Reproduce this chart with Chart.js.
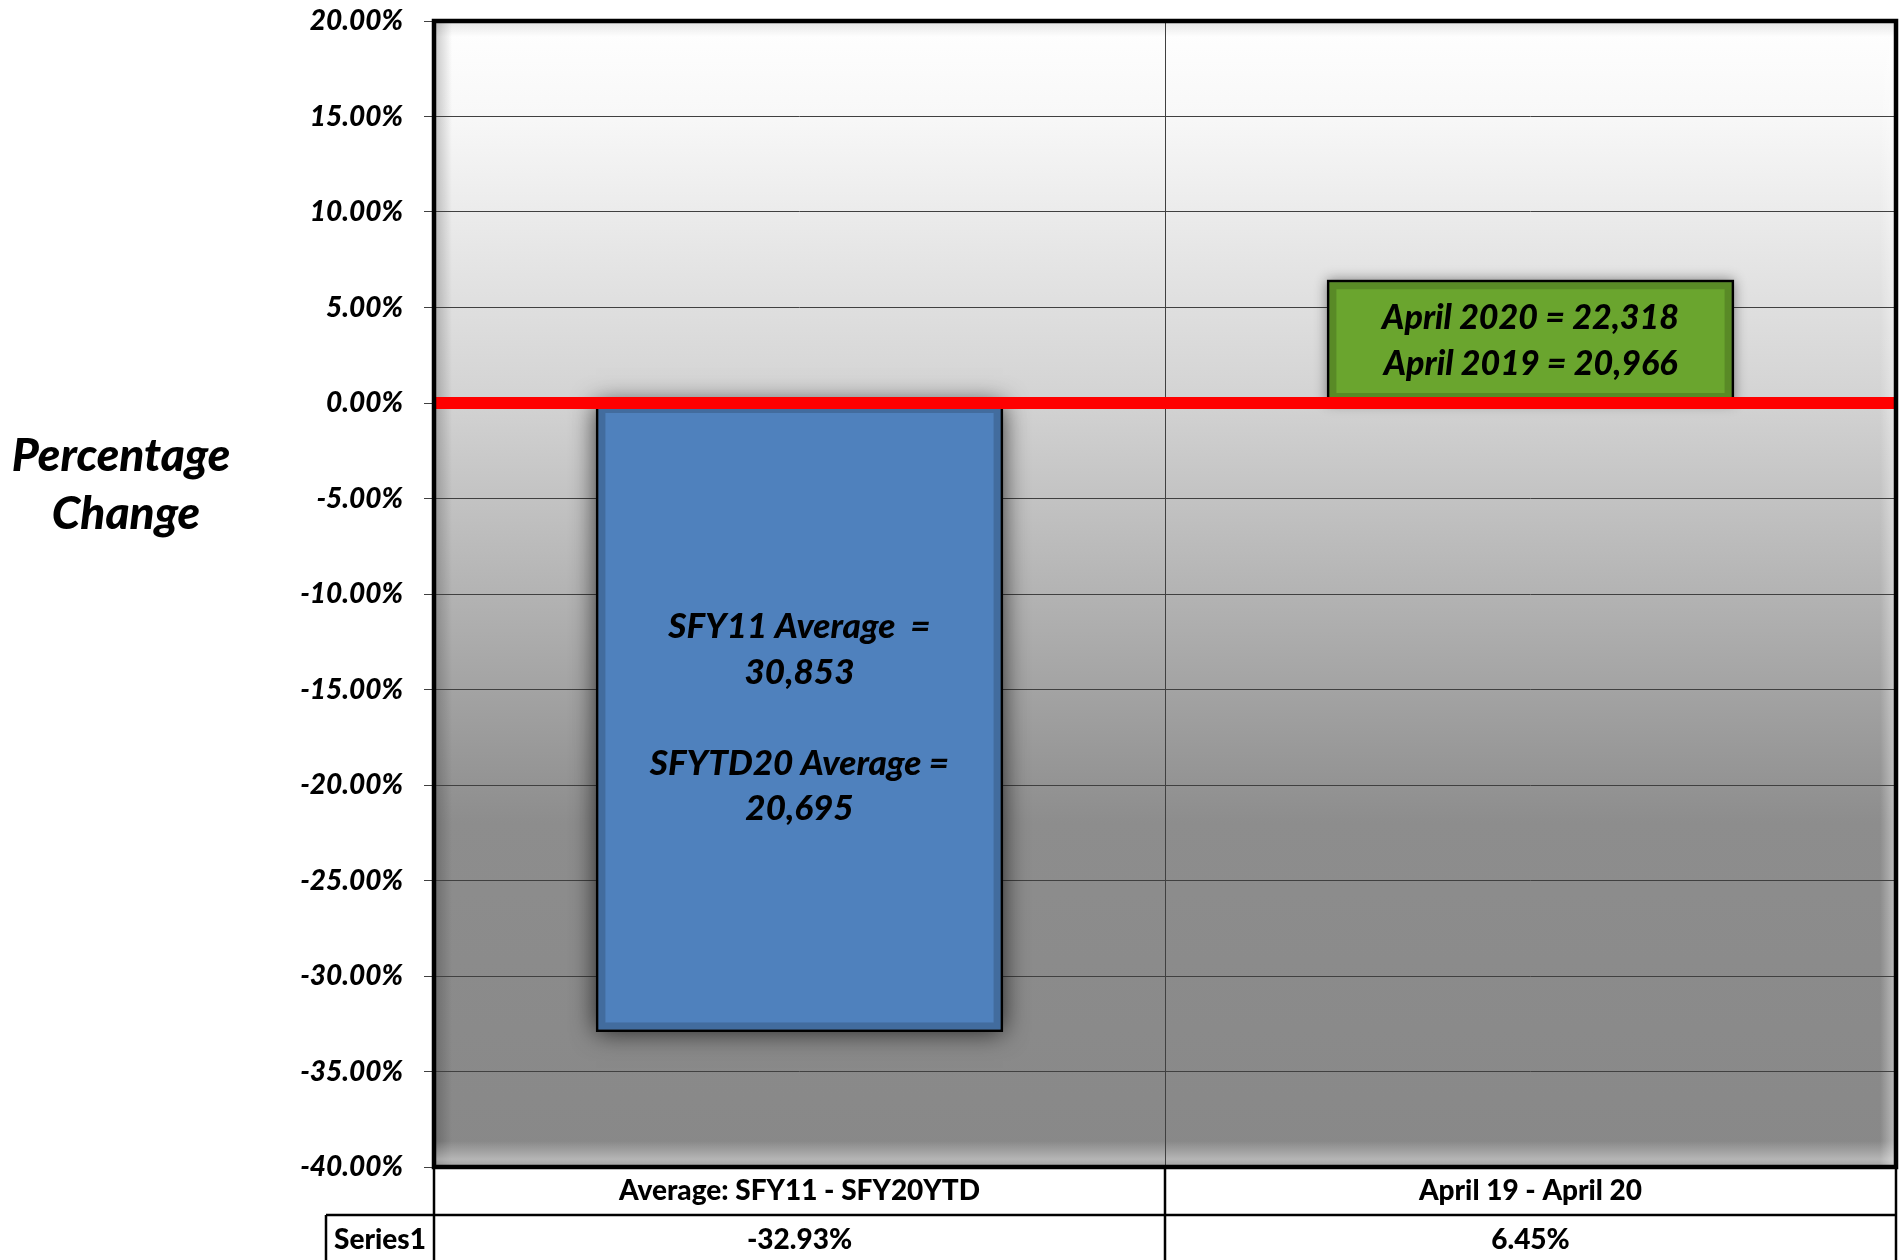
<!DOCTYPE html>
<html><head><meta charset="utf-8">
<script src="https://cdn.jsdelivr.net/npm/chart.js@4"></script>
<style>html,body{margin:0;padding:0;background:#fff;} canvas{display:block;}</style>
</head><body>
<canvas id="c" width="1902" height="1260"></canvas>
<script>
// ---- data ----
const categories = ["Average: SFY11 - SFY20YTD", "April 19 - April 20"];
const seriesName = "Series1";
const values = [-32.93, 6.45];
const barColors = ["#4F81BD", "#6AA52E"];
const barNotes = [
  ["SFY11 Average  =", "30,853", "", "SFYTD20 Average =", "20,695"],
  ["April 2020 = 22,318", "April 2019 = 20,966"]
];
const yTitle = ["Percentage", "Change"];
const yMin = -40, yMax = 20, yStep = 5;
const refValue = 0;

const FONT = "Lato, 'Open Sans', 'DejaVu Sans', sans-serif";
const W = 900;
const fmtPct = v => v.toFixed(2) + '%';

const bgPlugin = {
  id: 'bg',
  beforeDraw(chart) {
    const {ctx, chartArea: a} = chart;
    ctx.save();
    const g = ctx.createLinearGradient(0, a.top, 0, a.bottom);
    g.addColorStop(0, '#ffffff');
    g.addColorStop(0.08, '#f8f8f8');
    g.addColorStop(0.33, '#d3d3d3');
    g.addColorStop(0.5, '#b3b3b3');
    g.addColorStop(0.7, '#8d8d8d');
    g.addColorStop(1, '#888888');
    ctx.fillStyle = g;
    ctx.fillRect(a.left, a.top, a.width, a.height);
    let s = ctx.createLinearGradient(a.left, 0, a.left + 18, 0);
    s.addColorStop(0, 'rgba(0,0,0,0.22)'); s.addColorStop(1, 'rgba(0,0,0,0)');
    ctx.fillStyle = s; ctx.fillRect(a.left, a.top, 18, a.height);
    s = ctx.createLinearGradient(a.right - 16, 0, a.right, 0);
    s.addColorStop(0, 'rgba(255,255,255,0)'); s.addColorStop(1, 'rgba(255,255,255,0.45)');
    ctx.fillStyle = s; ctx.fillRect(a.right - 16, a.top, 16, a.height);
    s = ctx.createLinearGradient(0, a.top, 0, a.top + 16);
    s.addColorStop(0, 'rgba(0,0,0,0.10)'); s.addColorStop(1, 'rgba(0,0,0,0)');
    ctx.fillStyle = s; ctx.fillRect(a.left, a.top, a.width, 16);
    s = ctx.createLinearGradient(0, a.bottom - 26, 0, a.bottom);
    s.addColorStop(0, 'rgba(255,255,255,0)'); s.addColorStop(0.7, 'rgba(255,255,255,0.38)'); s.addColorStop(1, 'rgba(255,255,255,0.22)');
    ctx.fillStyle = s; ctx.fillRect(a.left, a.bottom - 26, a.width, 26);
    ctx.restore();
  },
  beforeDatasetsDraw(chart) {
    // soft shadow behind the bars (bar element clips its own drawing)
    const ctx = chart.ctx;
    const meta = chart.getDatasetMeta(0);
    ctx.save();
    meta.data.forEach((el, i) => {
      const top = Math.min(el.y, el.base), bot = Math.max(el.y, el.base);
      ctx.shadowColor = i === 0 ? 'rgba(0,0,0,0.75)' : 'rgba(0,0,0,0.45)';
      ctx.shadowBlur = i === 0 ? 24 : 12;
      ctx.fillStyle = '#333';
      ctx.fillRect(el.x - el.width / 2, top, el.width, bot - top);
    });
    ctx.restore();
  },
  afterDatasetsDraw(chart) {
    const {ctx, chartArea: a, scales} = chart;
    const meta = chart.getDatasetMeta(0);
    ctx.save();
    meta.data.forEach(el => {
      const top = Math.min(el.y, el.base), bot = Math.max(el.y, el.base);
      const l = el.x - el.width / 2, r = el.x + el.width / 2;
      ctx.strokeStyle = 'rgba(0,0,0,0.16)';
      ctx.lineWidth = 8;
      ctx.strokeRect(l + 5.5, top + 5.5, r - l - 11, bot - top - 11);
    });
    const y0 = scales.y.getPixelForValue(refValue);
    ctx.fillStyle = '#FF0000';
    ctx.fillRect(a.left, y0 - 6, a.width, 12);
    meta.data.forEach((el, i) => {
      const lines = barNotes[i];
      const cy = (el.y + el.base) / 2;
      const lh = i === 0 ? 45.5 : 46;
      const size = i === 0 ? 35 : 34;
      ctx.font = `italic ${W} ${size}px ${FONT}`;
      ctx.fillStyle = '#000';
      ctx.textAlign = 'center';
      ctx.textBaseline = 'middle';
      const n = lines.length;
      lines.forEach((t, k) => {
        ctx.fillText(t, el.x, cy + (k - (n - 1) / 2) * lh);
      });
    });
    ctx.restore();
  },
  afterDraw(chart) {
    const {ctx, chartArea: a, scales} = chart;
    ctx.save();
    ctx.strokeStyle = '#000';
    ctx.lineWidth = 4.5;
    ctx.strokeRect(a.left, a.top, a.width, a.height);
    const rowH = 48;
    const rowY = a.bottom + rowH;
    const leftCol = a.left - 108;
    const x = scales.x;
    const mid = (x.getPixelForValue(0) + x.getPixelForValue(1)) / 2;
    ctx.lineWidth = 2.5;
    ctx.beginPath();
    ctx.moveTo(leftCol, rowY); ctx.lineTo(a.right, rowY);
    ctx.moveTo(leftCol, rowY); ctx.lineTo(leftCol, chart.height);
    [a.left, mid, a.right].forEach(px => { ctx.moveTo(px, a.bottom); ctx.lineTo(px, chart.height); });
    ctx.stroke();
    ctx.fillStyle = '#000';
    ctx.textAlign = 'center';
    ctx.textBaseline = 'middle';
    ctx.font = `${W} 28px ${FONT}`;
    ctx.fillText(seriesName, (leftCol + a.left) / 2, rowY + 25);
    values.forEach((v, i) => ctx.fillText(fmtPct(v), x.getPixelForValue(i), rowY + 25));
    ctx.font = `italic ${W} 46px ${FONT}`;
    ctx.fillText(yTitle[0], 121, 456);
    ctx.fillText(yTitle[1], 126, 514);
    ctx.restore();
  }
};

new Chart(document.getElementById('c'), {
  type: 'bar',
  data: {
    labels: categories,
    datasets: [{
      label: seriesName,
      data: values,
      backgroundColor: barColors,
      borderColor: '#000',
      borderWidth: 2.5,
      borderSkipped: false,
      categoryPercentage: 1,
      barPercentage: 0.557
    }]
  },
  options: {
    responsive: false,
    animation: false,
    layout: { padding: { left: 0, right: 6, top: 21, bottom: 0 } },
    plugins: { legend: { display: false }, tooltip: { enabled: false }, title: { display: false } },
    scales: {
      x: {
        grid: { offset: true, color: '#404040', lineWidth: 1, drawTicks: false },
        border: { display: false },
        ticks: { color: '#000', font: { family: FONT, size: 28, weight: W }, padding: 7, maxRotation: 0, autoSkip: false },
        afterFit(s) { s.height = 93; }
      },
      y: {
        min: yMin, max: yMax,
        grid: { color: '#404040', lineWidth: 1, tickLength: 10, drawTicks: true },
        border: { display: false },
        ticks: {
          stepSize: yStep, color: '#000', padding: 21,
          font: { family: FONT, size: 28, weight: W, style: 'italic' },
          callback: v => fmtPct(v)
        },
        afterFit(s) { s.width = 434; s.paddingTop = 0; s.paddingBottom = 0; }
      }
    }
  },
  plugins: [bgPlugin]
});
</script>
</body></html>
